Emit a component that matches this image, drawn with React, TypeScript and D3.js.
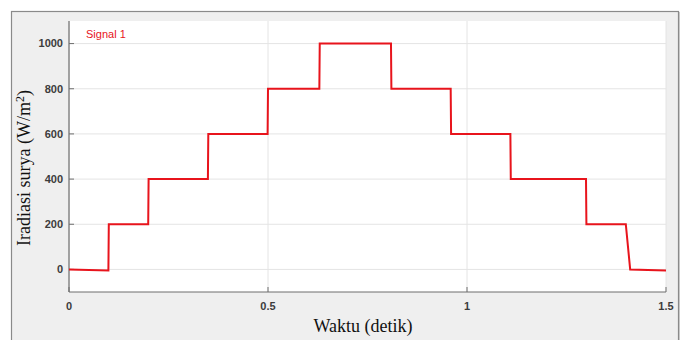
import React from "react";
import * as d3 from "d3";

// Signal builder output: irradiance steps over time
const times = [0, 0.099, 0.1, 0.199, 0.2, 0.349, 0.35, 0.499, 0.5, 0.629, 0.63, 0.809, 0.81, 0.959, 0.96, 1.109, 1.11, 1.299, 1.3, 1.399, 1.41, 1.5];
const irradiance = [0, -5, 200, 200, 400, 400, 600, 600, 800, 800, 1000, 1000, 800, 800, 600, 600, 400, 400, 200, 200, 0, -5];
const xTicks = [0, 0.5, 1, 1.5];
const xTickLabels = ["0", "0.5", "1", "1.5"];
const yTicks = [0, 200, 400, 600, 800, 1000];
const seriesName = "Signal 1";

const W = 686;
const H = 340;
const plot = { left: 69, right: 666, top: 21, bottom: 292 };

export default function App() {
  const x = d3.scaleLinear().domain([0, 1.5]).range([plot.left, plot.right]);
  const y = d3.scaleLinear().domain([-100, 1100]).range([plot.bottom, plot.top]);
  const pts: [number, number][] = times.map((t, i) => [t, irradiance[i]]);
  const line = d3
    .line<[number, number]>()
    .x((d) => x(d[0]))
    .y((d) => y(d[1]));

  const tickFont = "'Liberation Sans', Arial, sans-serif";
  const serif = "'Liberation Serif', 'Times New Roman', serif";

  return (
    <svg
      width={W}
      height={H}
      style={{ position: "absolute", left: 0, top: 0, display: "block" }}
    >
      <rect x={0} y={0} width={W} height={H} fill="#ffffff" />
      {/* figure frame */}
      <rect x={11.5} y={11.5} width={667} height={340} fill="#efefef" stroke="#8a8a8a" strokeWidth={1.2} />
      <line x1={679.5} y1={12} x2={679.5} y2={H} stroke="#c8c8c8" strokeWidth={1} />
      {/* plotting area */}
      <rect
        x={plot.left}
        y={plot.top}
        width={plot.right - plot.left}
        height={plot.bottom - plot.top}
        fill="#ffffff"
      />
      {/* grid */}
      {yTicks.map((v) => (
        <line key={"gy" + v} x1={plot.left} x2={plot.right} y1={y(v)} y2={y(v)} stroke="#e4e4e4" strokeWidth={1} />
      ))}
      {xTicks.map((v) => (
        <line key={"gx" + v} x1={x(v)} x2={x(v)} y1={plot.top} y2={plot.bottom} stroke="#e4e4e4" strokeWidth={1} />
      ))}
      {/* axes */}
      <line x1={plot.left} x2={plot.left} y1={plot.top} y2={plot.bottom} stroke="#6e6e6e" strokeWidth={1.2} />
      <line x1={plot.left} x2={plot.right} y1={plot.bottom} y2={plot.bottom} stroke="#6e6e6e" strokeWidth={1.2} />
      {yTicks.map((v) => (
        <g key={"ty" + v}>
          <line x1={plot.left} x2={plot.left + 5} y1={y(v)} y2={y(v)} stroke="#6e6e6e" strokeWidth={1} />
          <text
            x={plot.left - 6}
            y={y(v)}
            dy="0.35em"
            textAnchor="end"
            fontFamily={tickFont}
            fontWeight="bold"
            fontSize={11}
            fill="#3c3c3c"
          >
            {v}
          </text>
        </g>
      ))}
      {xTicks.map((v, i) => (
        <g key={"tx" + v}>
          <line x1={x(v)} x2={x(v)} y1={plot.bottom} y2={plot.bottom - 5} stroke="#6e6e6e" strokeWidth={1} />
          <text
            x={x(v)}
            y={plot.bottom + 18}
            textAnchor="middle"
            fontFamily={tickFont}
            fontWeight="bold"
            fontSize={11}
            fill="#3c3c3c"
          >
            {xTickLabels[i]}
          </text>
        </g>
      ))}
      {/* signal */}
      <path d={line(pts) ?? ""} fill="none" stroke="#e8141c" strokeWidth={2} strokeLinejoin="miter" />
      <text x={86} y={38} fontFamily={tickFont} fontSize={11} fill="#e8141c">
        {seriesName}
      </text>
      {/* axis titles */}
      <text x={363} y={332} textAnchor="middle" fontFamily={serif} fontSize={18} fill="#111">
        Waktu (detik)
      </text>
      <text
        transform={`translate(30,168) rotate(-90)`}
        textAnchor="middle"
        fontFamily={serif}
        fontSize={18}
        fill="#111"
      >
        Iradiasi surya (W/m<tspan dy={-6} fontSize={12}>2</tspan><tspan dy={6}>)</tspan>
      </text>
    </svg>
  );
}
